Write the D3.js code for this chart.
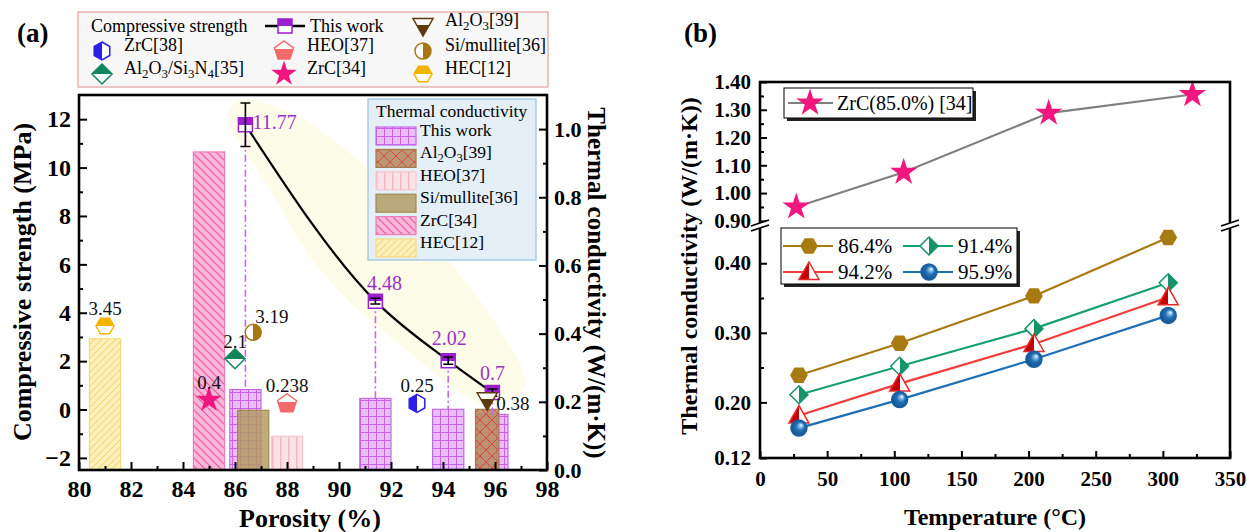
<!DOCTYPE html>
<html>
<head>
<meta charset="utf-8">
<script src="https://cdnjs.cloudflare.com/ajax/libs/d3/7.8.5/d3.min.js"></script>
<style>
  body { margin: 0; background: #fff; }
  svg { display: block; }
  svg text { font-family: "Liberation Serif", "Times New Roman", "DejaVu Serif", serif !important; }
</style>
</head>
<body>
<svg id="chart" width="1247" height="532"></svg>
<script>
// ---------- panel (a) data ----------
var porosity = [86.4, 91.4, 94.2, 95.9];
var strength = [11.77, 4.48, 2.02, 0.7];
var strengthErr = [0.9, 0.12, 0.15, 0.15];
var tcThisWork = [0.236, 0.21, 0.178, 0.163];

var refNames = ["ZrC[38]", "Al_2O_3/Si_3N_4[35]", "HEO[37]", "ZrC[34]", "Al_2O_3[39]", "Si/mullite[36]", "HEC[12]"];
var refPorosity = [93.0, 86.0, 88.0, 85.0, 95.7, 86.7, 81.0];
var refStrength = [0.25, 2.1, 0.238, 0.4, 0.38, 3.19, 3.45];

var tcNames = ["HEC[12]", "ZrC[34]", "Si/mullite[36]", "HEO[37]", "Al_2O_3[39]"];
var tcPorosity = [81.0, 85.0, 86.7, 88.0, 95.7];
var tcValues = [0.385, 0.933, 0.175, 0.099, 0.178];

// fit confidence band (porosity, strength)
var bandUpP = [86.19, 88.5, 91.58, 93.88, 96.19, 97.15];
var bandUpV = [12.8, 12.05, 9.49, 6.59, 3.29, 1.01];
var bandLoP = [85.73, 87.35, 89.27, 92.35, 95.81];
var bandLoV = [12.18, 9.07, 5.77, 2.67, 0.19];

var xTicksA = [80, 82, 84, 86, 88, 90, 92, 94, 96, 98];
var xMinorA = [81, 83, 85, 87, 89, 91, 93, 95, 97];
var yTicksA = [-2, 0, 2, 4, 6, 8, 10, 12];
var yMinorA = [-1, 1, 3, 5, 7, 9, 11];
var y2TicksA = [0, 0.2, 0.4, 0.6, 0.8, 1.0];
var y2MinorA = [0.1, 0.3, 0.5, 0.7, 0.9];

// ---------- panel (b) data ----------
var zrcTemp = [27, 107, 215, 322];
var zrcK = [0.95, 1.075, 1.288, 1.355];
var temps = [29, 104, 204, 304];
var seriesNames = ["86.4%", "91.4%", "94.2%", "95.9%"];
var k864 = [0.239, 0.285, 0.353, 0.437];
var k914 = [0.211, 0.252, 0.306, 0.372];
var k942 = [0.181, 0.227, 0.284, 0.351];
var k959 = [0.163, 0.204, 0.262, 0.325];
var seriesK = [k864, k914, k942, k959];

var xTicksB = [0, 50, 100, 150, 200, 250, 300, 350];
var xMinorB = [25, 75, 125, 175, 225, 275, 325];
var yHiTicksB = [0.9, 1.0, 1.1, 1.2, 1.3, 1.4];
var yHiMinorB = [0.95, 1.05, 1.15, 1.25, 1.35];
var yLoTicksB = [0.12, 0.2, 0.3, 0.4];
var yLoMinorB = [0.25, 0.35];

// ---------- styles ----------
var FONT = "Liberation Serif, Times New Roman, serif";

var refStyle = {
  "ZrC[38]":              {shape: "hexV", r: 9, color: "#2a1fe6", half: "left", frac: 0.5, lx: 0, ly: -18, anchor: "middle"},
  "Al_2O_3/Si_3N_4[35]":  {shape: "diamond", r: 10, color: "#13855a", half: "top", frac: 0.5, lx: 0, ly: -17, anchor: "middle"},
  "HEO[37]":              {shape: "pentagon", r: 10, color: "#f46a6a", half: "bottom", frac: 0.55, lx: 0, ly: -18, anchor: "middle"},
  "ZrC[34]":              {shape: "star", r: 11, color: "#f2167f", half: "full", lx: 0, ly: -17, anchor: "middle"},
  "Al_2O_3[39]":          {shape: "triDown", r: 10, color: "#5b3b0c", half: "bottom", frac: 0.62, lx: 9, ly: 3, anchor: "start"},
  "Si/mullite[36]":       {shape: "circle", r: 8, color: "#a8780f", half: "right", frac: 0.5, lx: 2, ly: -16, anchor: "start"},
  "HEC[12]":              {shape: "hexF", r: 9, color: "#f4b400", half: "top", frac: 0.5, lx: 0, ly: -18, anchor: "middle"}
};
var thisWorkStyle = {shape: "square", r: 7, color: "#9b1fcf", half: "top", frac: 0.5};
var thisWorkLabel = [{dx: 7, dy: -3, anchor: "start"}, {dx: 9, dy: -18, anchor: "middle"},
                     {dx: 1, dy: -23, anchor: "middle"}, {dx: 0, dy: -20, anchor: "middle"}];

var barStyle = {
  "This work":      {pat: "pGrid", stroke: "#c467e8", w: 1.2, op: 1},
  "Al_2O_3[39]":    {pat: "pCross", stroke: "#a47a4e", w: 0.9, op: 0.9},
  "HEO[37]":        {pat: "pVert", stroke: "#f7c5cc", w: 1.2, op: 1},
  "Si/mullite[36]": {pat: "pSolid", stroke: "#a08a50", w: 1.2, op: 0.82},
  "ZrC[34]":        {pat: "pBack", stroke: "#ee7fb8", w: 1.2, op: 1},
  "HEC[12]":        {pat: "pSlash", stroke: "#f3dc80", w: 1.2, op: 1}
};
var tcLegendOrder = ["This work", "Al_2O_3[39]", "HEO[37]", "Si/mullite[36]", "ZrC[34]", "HEC[12]"];

var seriesStyle = {
  "86.4%": {shape: "hexF", r: 8, color: "#a87a12", stroke: "#a87a12", line: "#a87a12", half: "full"},
  "91.4%": {shape: "diamond", r: 9, color: "#15936a", stroke: "#15936a", line: "#17a070", half: "right", frac: 0.5},
  "94.2%": {shape: "triUp", r: 10, color: "#c40000", stroke: "#e62a2a", line: "#f23c3c", half: "left", frac: 0.5},
  "95.9%": {shape: "circle", r: 8, color: "#1f6db3", stroke: "#1b5f9e", line: "#1f6fb4", half: "sphere"}
};

// ---------- helpers ----------
var svg = d3.select("#chart").attr("font-family", FONT);
var defs = svg.append("defs");

function poly(n, r, start) {
  var pts = d3.range(n).map(function(k) {
    var a = (start + k * 360 / n) * Math.PI / 180;
    return [r * Math.cos(a), r * Math.sin(a)];
  });
  return "M" + pts.map(function(p) { return p[0].toFixed(2) + "," + p[1].toFixed(2); }).join("L") + "Z";
}

function shapePath(shape, r) {
  if (shape == "square") return "M" + (-r) + "," + (-r) + "H" + r + "V" + r + "H" + (-r) + "Z";
  if (shape == "hexV") return poly(6, r, -90);
  if (shape == "hexF") return poly(6, r, 0);
  if (shape == "diamond") return poly(4, r, -90);
  if (shape == "pentagon") return poly(5, r, -90);
  if (shape == "triDown") return "M" + (-r) + "," + (-0.75 * r) + "H" + r + "L0," + r + "Z";
  if (shape == "triUp") return "M" + (-r) + "," + (0.75 * r) + "H" + r + "L0," + (-r) + "Z";
  if (shape == "circle") return d3.arc()({innerRadius: 0, outerRadius: r, startAngle: 0, endAngle: 2 * Math.PI});
  if (shape == "star") return d3.symbol().type(d3.symbolStar).size(r * r * 1.12)();
}

var gradCount = 0;
function fillFor(st) {
  if (st.half == "full") return st.color;
  if (st.half == "sphere") {
    var id = "sph" + (gradCount++);
    var rg = defs.append("radialGradient").attr("id", id)
      .attr("cx", 0.5).attr("cy", 0.5).attr("r", 0.55).attr("fx", 0.66).attr("fy", 0.3);
    rg.append("stop").attr("offset", 0).attr("stop-color", "#ffffff");
    rg.append("stop").attr("offset", 0.22).attr("stop-color", "#7fb6e6");
    rg.append("stop").attr("offset", 0.5).attr("stop-color", st.color);
    rg.append("stop").attr("offset", 1).attr("stop-color", "#15508a");
    return "url(#" + id + ")";
  }
  var id = "g" + (gradCount++);
  var c = {top: [0, 0, 0, 1], bottom: [0, 1, 0, 0], left: [0, 0, 1, 0], right: [1, 0, 0, 0]}[st.half];
  var g = defs.append("linearGradient").attr("id", id)
    .attr("x1", c[0]).attr("y1", c[1]).attr("x2", c[2]).attr("y2", c[3]);
  g.append("stop").attr("offset", 0).attr("stop-color", st.color);
  g.append("stop").attr("offset", st.frac).attr("stop-color", st.color);
  g.append("stop").attr("offset", st.frac).attr("stop-color", "#fff");
  g.append("stop").attr("offset", 1).attr("stop-color", "#fff");
  return "url(#" + id + ")";
}

function drawMarker(sel, st, x, y) {
  if (!st.fill) st.fill = fillFor(st);
  sel.append("path")
    .attr("d", shapePath(st.shape, st.r))
    .attr("transform", "translate(" + x + "," + y + ")")
    .attr("fill", st.fill)
    .attr("stroke", st.stroke || st.color)
    .attr("stroke-width", 1.5);
}

// text with "_2" style subscripts
function richText(sel, str) {
  var parts = str.split(/(_\d)/);
  var sub = false;
  parts.forEach(function(p) {
    if (!p) return;
    if (p[0] == "_") {
      sel.append("tspan").attr("dy", 4).attr("font-size", "0.72em").text(p.slice(1));
      sub = true;
    } else {
      sel.append("tspan").attr("dy", sub ? -4 : 0).text(p);
      sub = false;
    }
  });
}

function pattern(id, size, bg, path, stroke, sw) {
  var p = defs.append("pattern").attr("id", id).attr("patternUnits", "userSpaceOnUse")
    .attr("width", size).attr("height", size);
  p.append("rect").attr("width", size).attr("height", size).attr("fill", bg);
  if (path) p.append("path").attr("d", path).attr("stroke", stroke).attr("stroke-width", sw).attr("fill", "none");
}
pattern("pGrid", 8, "#ebbdf7", "M0,0.5H8M0.5,0V8", "#c862e8", 1);
pattern("pCross", 12, "#b98c60", "M0,0L12,12M12,0L0,12", "#d23a3a", 1);
pattern("pVert", 8, "#fbe2e6", "M0.75,0V8", "#f5b8c1", 1.5);
pattern("pSolid", 8, "#b09a5e", null);
pattern("pBack", 8, "#f8b6d8", "M0,0L8,8M-2,6L2,10M6,-2L10,2", "#e8599f", 1.2);
pattern("pSlash", 7, "#fcf0b8", "M0,7L7,0M-2,2L2,-2M5,9L9,5", "#efd26a", 1);

function styleAxis(g, size, bold) {
  g.attr("font-family", FONT).attr("font-size", size).attr("font-weight", bold ? "bold" : "normal");
  g.select(".domain").remove();
  g.selectAll(".tick line").attr("stroke", "#000").attr("stroke-width", 2);
  g.selectAll(".tick text").attr("fill", "#000");
}

// =================== PANEL (a) ===================
var xA = d3.scaleLinear().domain([80, 98]).range([79, 547]);
var yA = d3.scaleLinear().domain([-2.5, 13]).range([470, 95]);
var yA2 = d3.scaleLinear().domain([0, 1.1]).range([470, 95]);

var gA = svg.append("g");

// confidence band
var bandPts = bandUpP.map(function(p, i) { return [xA(p), yA(bandUpV[i])]; })
  .concat(bandLoP.map(function(p, i) { return [xA(p), yA(bandLoV[i])]; }).reverse());
gA.append("path")
  .attr("d", d3.line().curve(d3.curveCatmullRomClosed.alpha(0.5))(bandPts))
  .attr("fill", "#fdfce9");

// thermal conductivity bars
function bar(name, p, v) {
  var st = barStyle[name];
  gA.append("rect")
    .attr("x", xA(p - st.w / 2))
    .attr("width", xA(p + st.w / 2) - xA(p - st.w / 2))
    .attr("y", yA2(v))
    .attr("height", yA2(0) - yA2(v))
    .attr("fill", "url(#" + st.pat + ")")
    .attr("fill-opacity", st.op)
    .attr("stroke", st.stroke)
    .attr("stroke-width", 1.2);
}
bar(tcNames[0], tcPorosity[0], tcValues[0]);
bar(tcNames[1], tcPorosity[1], tcValues[1]);
porosity.forEach(function(p, i) { bar("This work", p, tcThisWork[i]); });
bar(tcNames[2], tcPorosity[2], tcValues[2]);
bar(tcNames[3], tcPorosity[3], tcValues[3]);
bar(tcNames[4], tcPorosity[4], tcValues[4]);

// drop lines from strength points to bars
porosity.forEach(function(p, i) {
  gA.append("line")
    .attr("x1", xA(p)).attr("x2", xA(p))
    .attr("y1", yA(strength[i])).attr("y2", yA2(tcThisWork[i]))
    .attr("stroke", "#c46ae8").attr("stroke-width", 1.6)
    .attr("stroke-dasharray", "7,3,2,3");
});

// fitted curve
var linePts = porosity.map(function(p, i) { return [xA(p), yA(strength[i])]; });
gA.append("path")
  .attr("d", d3.line().curve(d3.curveMonotoneX)(linePts))
  .attr("fill", "none").attr("stroke", "#000").attr("stroke-width", 2.2);

// this work markers + error bars
porosity.forEach(function(p, i) {
  drawMarker(gA, thisWorkStyle, xA(p), yA(strength[i]));
  var x = xA(p), y1 = yA(strength[i] + strengthErr[i]), y2 = yA(strength[i] - strengthErr[i]);
  gA.append("path")
    .attr("d", "M" + x + "," + y1 + "V" + y2 + "M" + (x - 5) + "," + y1 + "H" + (x + 5) + "M" + (x - 5) + "," + y2 + "H" + (x + 5))
    .attr("stroke", "#000").attr("stroke-width", 1.6).attr("fill", "none");
  var lb = thisWorkLabel[i];
  gA.append("text")
    .attr("x", x + lb.dx).attr("y", yA(strength[i]) + lb.dy)
    .attr("dy", "0.35em").attr("text-anchor", lb.anchor)
    .attr("font-size", 20).attr("fill", "#9a32c8")
    .text(String(strength[i]));
});

// reference markers
refNames.forEach(function(name, i) {
  var st = refStyle[name];
  var x = xA(refPorosity[i]), y = yA(refStrength[i]);
  drawMarker(gA, st, x, y);
  gA.append("text")
    .attr("x", x + st.lx).attr("y", y + st.ly)
    .attr("dy", "0.35em").attr("text-anchor", st.anchor)
    .attr("font-size", 19).attr("fill", "#111")
    .text(String(refStrength[i]));
});

// axes (a)
var axB = gA.append("g").attr("transform", "translate(0,470)")
  .call(d3.axisBottom(xA).tickValues(xTicksA).tickSize(-8).tickPadding(10).tickFormat(d3.format("d")));
styleAxis(axB, 24, true);
var axBm = gA.append("g").attr("transform", "translate(0,470)")
  .call(d3.axisBottom(xA).tickValues(xMinorA).tickSize(-4).tickFormat(""));
styleAxis(axBm, 10, false);

var axL = gA.append("g").attr("transform", "translate(79,0)")
  .call(d3.axisLeft(yA).tickValues(yTicksA).tickSize(-8).tickPadding(8).tickFormat(d3.format("d")));
styleAxis(axL, 24, true);
var axLm = gA.append("g").attr("transform", "translate(79,0)")
  .call(d3.axisLeft(yA).tickValues(yMinorA).tickSize(-4).tickFormat(""));
styleAxis(axLm, 10, false);

var axR = gA.append("g").attr("transform", "translate(547,0)")
  .call(d3.axisRight(yA2).tickValues(y2TicksA).tickSize(-8).tickPadding(7).tickFormat(d3.format(".1f")));
styleAxis(axR, 22, true);
var axRm = gA.append("g").attr("transform", "translate(547,0)")
  .call(d3.axisRight(yA2).tickValues(y2MinorA).tickSize(-4).tickFormat(""));
styleAxis(axRm, 10, false);

gA.append("rect").attr("x", 79).attr("y", 95).attr("width", 468).attr("height", 375)
  .attr("fill", "none").attr("stroke", "#000").attr("stroke-width", 2.6);

// axis titles (a)
gA.append("text").attr("transform", "translate(31,282) rotate(-90)")
  .attr("text-anchor", "middle").attr("font-size", 26).attr("font-weight", "bold")
  .text("Compressive strength (MPa)");
gA.append("text").attr("transform", "translate(588,283) rotate(90)")
  .attr("text-anchor", "middle").attr("font-size", 25).attr("font-weight", "bold")
  .text("Thermal conductivity (W/(m\u00b7K))");
gA.append("text").attr("x", 310).attr("y", 527)
  .attr("text-anchor", "middle").attr("font-size", 26).attr("font-weight", "bold")
  .text("Porosity (%)");
gA.append("text").attr("x", 17).attr("y", 42).attr("font-size", 27).attr("font-weight", "bold").text("(a)");

// thermal conductivity legend
var tl = gA.append("g");
tl.append("rect").attr("x", 368).attr("y", 99).attr("width", 168).attr("height", 161)
  .attr("fill", "#e5eff7").attr("stroke", "#a9cbe6").attr("stroke-width", 1.5);
tl.append("text").attr("x", 376).attr("y", 111).attr("dy", "0.35em").attr("font-size", 17.5)
  .text("Thermal conductivity");
tcLegendOrder.forEach(function(name, i) {
  var st = barStyle[name];
  var cy = 136 + i * 22.4;
  tl.append("rect").attr("x", 376).attr("y", cy - 9).attr("width", 40).attr("height", 18)
    .attr("fill", "url(#" + st.pat + ")").attr("fill-opacity", st.op)
    .attr("stroke", st.stroke).attr("stroke-width", 1.2);
  richText(tl.append("text").attr("x", 420).attr("y", cy).attr("dy", "0.35em").attr("font-size", 17.5), name);
});

// compressive strength legend (top)
var cl = svg.append("g");
cl.append("rect").attr("x", 78).attr("y", 12).attr("width", 470).attr("height", 75)
  .attr("fill", "#f7f7f7").attr("stroke", "#e8b2b2").attr("stroke-width", 1.5);
var legRows = [26, 51, 74];
cl.append("text").attr("x", 91).attr("y", legRows[0]).attr("dy", "0.35em").attr("font-size", 18)
  .text("Compressive strength");
cl.append("line").attr("x1", 265).attr("x2", 305).attr("y1", legRows[0]).attr("y2", legRows[0])
  .attr("stroke", "#000").attr("stroke-width", 2.5);
drawMarker(cl, thisWorkStyle, 285, legRows[0]);
cl.append("text").attr("x", 310).attr("y", legRows[0]).attr("dy", "0.35em").attr("font-size", 18).text("This work");
var legSlots = [
  {name: "Al_2O_3[39]", mx: 423, tx: 445, row: 0},
  {name: "ZrC[38]", mx: 102, tx: 124, row: 1},
  {name: "HEO[37]", mx: 284, tx: 307, row: 1},
  {name: "Si/mullite[36]", mx: 423, tx: 445, row: 1},
  {name: "Al_2O_3/Si_3N_4[35]", mx: 102, tx: 124, row: 2},
  {name: "ZrC[34]", mx: 284, tx: 307, row: 2},
  {name: "HEC[12]", mx: 423, tx: 445, row: 2}
];
legSlots.forEach(function(s) {
  var y = legRows[s.row];
  drawMarker(cl, refStyle[s.name], s.mx, y);
  richText(cl.append("text").attr("x", s.tx).attr("y", y).attr("dy", "0.35em").attr("font-size", 18), s.name);
});

// =================== PANEL (b) ===================
var xB = d3.scaleLinear().domain([0, 350]).range([760, 1230]);
var yBhi = d3.scaleLinear().domain([0.885, 1.40]).range([225, 82]);
var yBlo = d3.scaleLinear().domain([0.12, 0.455]).range([458, 225]);

var gB = svg.append("g");

// ZrC reference line (upper segment)
gB.append("path")
  .attr("d", d3.line().x(function(d, i) { return xB(zrcTemp[i]); }).y(function(d) { return yBhi(d); })(zrcK))
  .attr("fill", "none").attr("stroke", "#808080").attr("stroke-width", 2.2);
var zrcStyle = {shape: "star", r: 12, color: "#f2167f", half: "full"};
zrcK.forEach(function(k, i) { drawMarker(gB, zrcStyle, xB(zrcTemp[i]), yBhi(k)); });

// porosity series (lower segment)
seriesNames.forEach(function(name, si) {
  var st = seriesStyle[name];
  var ks = seriesK[si];
  gB.append("path")
    .attr("d", d3.line().x(function(d, i) { return xB(temps[i]); }).y(function(d) { return yBlo(d); })(ks))
    .attr("fill", "none").attr("stroke", st.line).attr("stroke-width", 2.2);
  ks.forEach(function(k, i) { drawMarker(gB, st, xB(temps[i]), yBlo(k)); });
});

// axes (b)
var bx = gB.append("g").attr("transform", "translate(0,458)")
  .call(d3.axisBottom(xB).tickValues(xTicksB).tickSize(-7).tickPadding(13).tickFormat(d3.format("d")));
styleAxis(bx, 21, true);
var bxm = gB.append("g").attr("transform", "translate(0,458)")
  .call(d3.axisBottom(xB).tickValues(xMinorB).tickSize(-4).tickFormat(""));
styleAxis(bxm, 10, false);

var byh = gB.append("g").attr("transform", "translate(760,0)")
  .call(d3.axisLeft(yBhi).tickValues(yHiTicksB).tickSize(-7).tickPadding(9).tickFormat(d3.format(".2f")));
styleAxis(byh, 21, true);
var byhm = gB.append("g").attr("transform", "translate(760,0)")
  .call(d3.axisLeft(yBhi).tickValues(yHiMinorB).tickSize(-4).tickFormat(""));
styleAxis(byhm, 10, false);
var byl = gB.append("g").attr("transform", "translate(760,0)")
  .call(d3.axisLeft(yBlo).tickValues(yLoTicksB).tickSize(-7).tickPadding(9).tickFormat(d3.format(".2f")));
styleAxis(byl, 21, true);
var bylm = gB.append("g").attr("transform", "translate(760,0)")
  .call(d3.axisLeft(yBlo).tickValues(yLoMinorB).tickSize(-4).tickFormat(""));
styleAxis(bylm, 10, false);

gB.append("rect").attr("x", 760).attr("y", 82).attr("width", 470).attr("height", 376)
  .attr("fill", "none").attr("stroke", "#000").attr("stroke-width", 2.6);

// axis break marks
[760, 1230].forEach(function(x) {
  var y = 225;
  gB.append("path")
    .attr("d", "M" + (x - 9) + "," + (y + 1) + "L" + (x + 9) + "," + (y - 5) + "L" + (x + 9) + "," + (y) + "L" + (x - 9) + "," + (y + 6) + "Z")
    .attr("fill", "#fff");
  gB.append("path")
    .attr("d", "M" + (x - 9) + "," + (y + 1) + "L" + (x + 9) + "," + (y - 5) + "M" + (x - 9) + "," + (y + 6) + "L" + (x + 9) + "," + (y))
    .attr("stroke", "#000").attr("stroke-width", 1.8);
});

// legends (b)
function shadowBox(g, x, y, w, h) {
  g.append("rect").attr("x", x + 3).attr("y", y + 3).attr("width", w).attr("height", h).attr("fill", "#222");
  g.append("rect").attr("x", x).attr("y", y).attr("width", w).attr("height", h)
    .attr("fill", "#fff").attr("stroke", "#000").attr("stroke-width", 1);
}
shadowBox(gB, 784, 88, 189, 30);
gB.append("line").attr("x1", 788).attr("x2", 833).attr("y1", 103).attr("y2", 103)
  .attr("stroke", "#808080").attr("stroke-width", 2.2);
drawMarker(gB, zrcStyle, 810, 103);
gB.append("text").attr("x", 837).attr("y", 103).attr("dy", "0.35em").attr("font-size", 20)
  .text("ZrC(85.0%) [34]");

shadowBox(gB, 781, 228, 236, 56);
var colX = [783, 903];
var rowY = [246, 272];
seriesNames.forEach(function(name, i) {
  var st = seriesStyle[name];
  var x0 = colX[i % 2], y = rowY[Math.floor(i / 2)];
  gB.append("line").attr("x1", x0).attr("x2", x0 + 50).attr("y1", y).attr("y2", y)
    .attr("stroke", st.line).attr("stroke-width", 2.2);
  drawMarker(gB, st, x0 + 26, y);
  gB.append("text").attr("x", x0 + 55).attr("y", y).attr("dy", "0.35em").attr("font-size", 21).text(name);
});

// titles (b)
gB.append("text").attr("transform", "translate(697,266) rotate(-90)")
  .attr("text-anchor", "middle").attr("font-size", 24).attr("font-weight", "bold")
  .text("Thermal conductivity (W/(m\u00b7K))");
gB.append("text").attr("x", 995).attr("y", 525)
  .attr("text-anchor", "middle").attr("font-size", 24).attr("font-weight", "bold")
  .text("Temperature (\u00b0C)");
gB.append("text").attr("x", 684).attr("y", 42).attr("font-size", 27).attr("font-weight", "bold").text("(b)");
</script>
</body>
</html>
